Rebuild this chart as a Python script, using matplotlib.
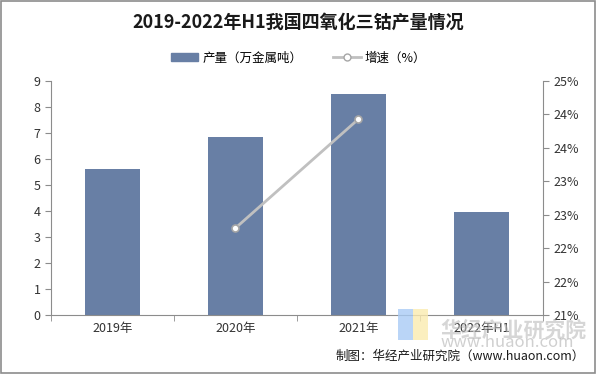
import numpy as np
import matplotlib.pyplot as plt
from matplotlib.ticker import FuncFormatter, MultipleLocator
from matplotlib.patches import Rectangle
from matplotlib.lines import Line2D

plt.rcParams['font.family'] = ['Noto Sans CJK SC', 'DejaVu Sans']

# 数据
years = ['2019年', '2020年', '2021年', '2022年H1']
output = [5.6, 6.85, 8.5, 3.95]          # 产量（万金属吨）
growth = [None, 0.2230, 0.2393, None]    # 增速

bar_color = '#687FA5'
line_color = '#C0C0C0'

fig = plt.figure(figsize=(5.97, 3.74), dpi=100)
fig.patch.set_facecolor('white')
fig.add_artist(Rectangle((0.002, 0.003), 0.995, 0.994, transform=fig.transFigure,
                         fill=False, edgecolor='#8C8C8C', linewidth=1.2))

ax = fig.add_axes([0.0854, 0.1578, 0.8241, 0.6257])
x = np.arange(len(years))
ax.bar(x, output, width=0.44, color=bar_color, zorder=2)
ax.set_xlim(-0.5, len(years) - 0.5)
ax.set_ylim(0, 9)
ax.yaxis.set_major_locator(MultipleLocator(1))
ax.set_xticks(x)
ax.set_xticklabels(years, fontsize=9, color='#333333')
ax.set_xticks(np.arange(-0.5, len(years)), minor=True)
ax.tick_params(axis='x', which='major', length=0, pad=5)
ax.tick_params(axis='x', which='minor', length=4, color='#8C8C8C')
ax.tick_params(axis='y', length=4, color='#8C8C8C', labelsize=9, labelcolor='#333333')
for s in ['top', 'right']:
    ax.spines[s].set_visible(False)
for s in ['left', 'bottom']:
    ax.spines[s].set_color('#8C8C8C')

ax2 = ax.twinx()
gx = [i for i, g in enumerate(growth) if g is not None]
gy = [g for g in growth if g is not None]
ax2.plot(gx, gy, color=line_color, linewidth=2, marker='o', markersize=5,
         markerfacecolor='white', markeredgecolor='#A6A6A6', markeredgewidth=1.2, zorder=3)
ax2.set_ylim(0.21, 0.245)
ax2.yaxis.set_major_locator(MultipleLocator(0.005))
ax2.yaxis.set_major_formatter(FuncFormatter(lambda v, p: '%d%%' % int(np.floor(v * 100 + 0.5 + 1e-9))))
ax2.tick_params(axis='y', length=4, color='#8C8C8C', labelsize=9, labelcolor='#333333')
for s in ['top', 'left', 'bottom']:
    ax2.spines[s].set_visible(False)
ax2.spines['right'].set_color('#8C8C8C')

# 标题与图例
fig.text(0.5, 0.94, '2019-2022年H1我国四氧化三钴产量情况', ha='center', va='center',
         fontsize=13, fontweight='bold', color='#1a1a1a')
handles = [Rectangle((0, 0), 1, 1, color=bar_color),
           Line2D([], [], color=line_color, linewidth=2, marker='o', markersize=5,
                  markerfacecolor='white', markeredgecolor='#A6A6A6')]
fig.legend(handles, ['产量（万金属吨）', '增速（%）'], loc='center', bbox_to_anchor=(0.5, 0.845),
           ncol=2, frameon=False, fontsize=9, handlelength=2.2, handleheight=0.5,
           columnspacing=2.5, handletextpad=0.3)

# 水印
fig.add_artist(Rectangle((0.667, 0.09), 0.025, 0.085, transform=fig.transFigure,
                         color='#A9CBF5', alpha=0.8, linewidth=0))
fig.add_artist(Rectangle((0.692, 0.09), 0.025, 0.085, transform=fig.transFigure,
                         color='#FBEBB0', alpha=0.8, linewidth=0))
fig.text(0.86, 0.118, '华经产业研究院', ha='center', va='center', fontsize=15,
         fontweight='bold', color='#BBBBBB', alpha=0.6)
fig.text(0.85, 0.085, 'www.huaon.com', ha='center', va='center', fontsize=12,
         color='#D0D0D0', zorder=0)

fig.text(0.98, 0.048, '制图：华经产业研究院（www.huaon.com）', ha='right', va='center',
         fontsize=9, color='#1a1a1a')

fig.savefig('out.png', dpi=100)
